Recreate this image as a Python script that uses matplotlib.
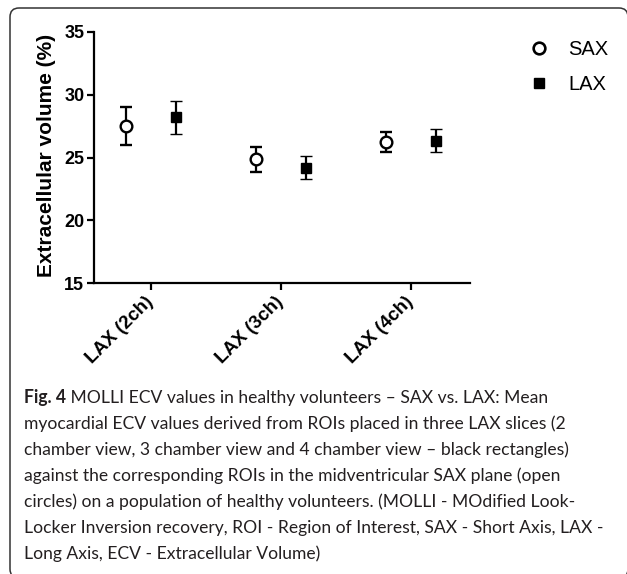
import matplotlib
matplotlib.use("Agg")
import matplotlib.pyplot as plt
from matplotlib.lines import Line2D
from matplotlib.patches import FancyBboxPatch
import numpy as np

# ---- data ----
categories = ["LAX (2ch)", "LAX (3ch)", "LAX (4ch)"]
sax_mean = [27.5, 24.85, 26.2]
sax_err = [1.5, 1.0, 0.8]
lax_mean = [28.2, 24.2, 26.35]
lax_err = [1.3, 0.9, 0.9]
series_labels = ["SAX", "LAX"]
yticks = [15, 20, 25, 30, 35]
ylabel = "Extracellular volume (%)"
caption_bold = "Fig. 4"
caption_lines = [
    " MOLLI ECV values in healthy volunteers \u2013 SAX vs. LAX: Mean",
    "myocardial ECV values derived from ROIs placed in three LAX slices (2",
    "chamber view, 3 chamber view and 4 chamber view \u2013 black rectangles)",
    "against the corresponding ROIs in the midventricular SAX plane (open",
    "circles) on a population of healthy volunteers. (MOLLI - MOdified Look-",
    "Locker Inversion recovery, ROI - Region of Interest, SAX - Short Axis, LAX -",
    "Long Axis, ECV - Extracellular Volume)",
]

W, H = 627, 574
fig = plt.figure(figsize=(W / 100, H / 100), dpi=100)
fig.patch.set_facecolor("white")

def fx(px):
    return px / W

def fy(py):
    return 1 - py / H

ax = fig.add_axes([fx(94), fy(283), fx(470) - fx(94), fy(32) - fy(283)])
x = np.arange(len(categories))
off = 0.19
mfont = "Liberation Sans"

ax.errorbar(x - off, sax_mean, yerr=sax_err, fmt="o", color="black",
            mfc="white", mec="black", ms=8.4, mew=1.7, ecolor="black",
            elinewidth=1.6, capsize=4, capthick=1.6, zorder=3)
ax.errorbar(x + off, lax_mean, yerr=lax_err, fmt="s", color="black",
            mfc="black", mec="black", ms=7.4, mew=1.0, ecolor="black",
            elinewidth=1.6, capsize=4, capthick=1.6, zorder=3)

ax.set_xlim(-0.438, 2.454)
ax.set_ylim(15, 35)
ax.set_yticks(yticks)
ax.set_xticks(x)
ax.set_xticklabels(categories, rotation=45, ha="right", va="center",
                   rotation_mode="anchor", fontfamily=mfont,
                   fontweight="bold", fontsize=13.5)
for lab in ax.get_yticklabels():
    lab.set_fontfamily(mfont)
    lab.set_fontweight("bold")
    lab.set_fontsize(13)
ax.tick_params(axis="both", width=1.6, length=5, color="black", pad=2)
ax.tick_params(axis="x", pad=7)
for s in ["top", "right"]:
    ax.spines[s].set_visible(False)
for s in ["left", "bottom"]:
    ax.spines[s].set_linewidth(1.6)
ax.set_ylabel(ylabel, fontfamily=mfont, fontweight="bold", fontsize=15)
ax.yaxis.set_label_coords(-0.102, 0.51)

handles = [
    Line2D([], [], marker="o", ls="none", mfc="white", mec="black", ms=8.4, mew=1.9),
    Line2D([], [], marker="s", ls="none", mfc="black", mec="black", ms=7.6),
]
fig.legend(handles, series_labels, loc="upper left",
           bbox_to_anchor=(fx(529), fy(40)), frameon=False,
           prop={"family": mfont, "size": 14.5}, handlelength=1.0,
           handletextpad=0.95, labelspacing=0.8, borderpad=0,
           borderaxespad=0)

# frame
frame = FancyBboxPatch((10, -4), 618, 570, boxstyle="round,pad=0,rounding_size=9",
                       transform=None, fill=False, edgecolor="#333333",
                       linewidth=1.1, clip_on=False)
fig.patches.append(frame)

# caption (font size fitted to the reference line widths)
cfont = "Lato"
ref_w = np.array([554, 554, 586, 558, 561, 580], float)
fig.canvas.draw()
r = fig.canvas.get_renderer()
ws = []
for i, line in enumerate(caption_lines[:6]):
    t = fig.text(0, 0, line, fontfamily=cfont, fontsize=12)
    w = t.get_window_extent(r).width
    t.remove()
    if i == 0:
        t = fig.text(0, 0, caption_bold, fontfamily=cfont, fontsize=12, fontweight="bold")
        w += t.get_window_extent(r).width
        t.remove()
    ws.append(w)
ws = np.array(ws)
k = (ws @ ref_w) / (ws @ ws)
k = min(k, 578 / ws[5])
cs = 12 * k
x0 = 24
base0 = 403
step = 26
ccol = "#231f20"
for i, line in enumerate(caption_lines):
    yb = fy(base0 + i * step)
    xs = x0
    if i == 0:
        t = fig.text(fx(xs), yb, caption_bold, fontfamily=cfont, fontweight="bold",
                     fontsize=cs, color=ccol, va="baseline", ha="left")
        fig.canvas.draw()
        xs = x0 + t.get_window_extent(r).width
    fig.text(fx(xs), yb, line, fontfamily=cfont, fontsize=cs, color=ccol,
             va="baseline", ha="left")

fig.savefig("out.png", dpi=100)
